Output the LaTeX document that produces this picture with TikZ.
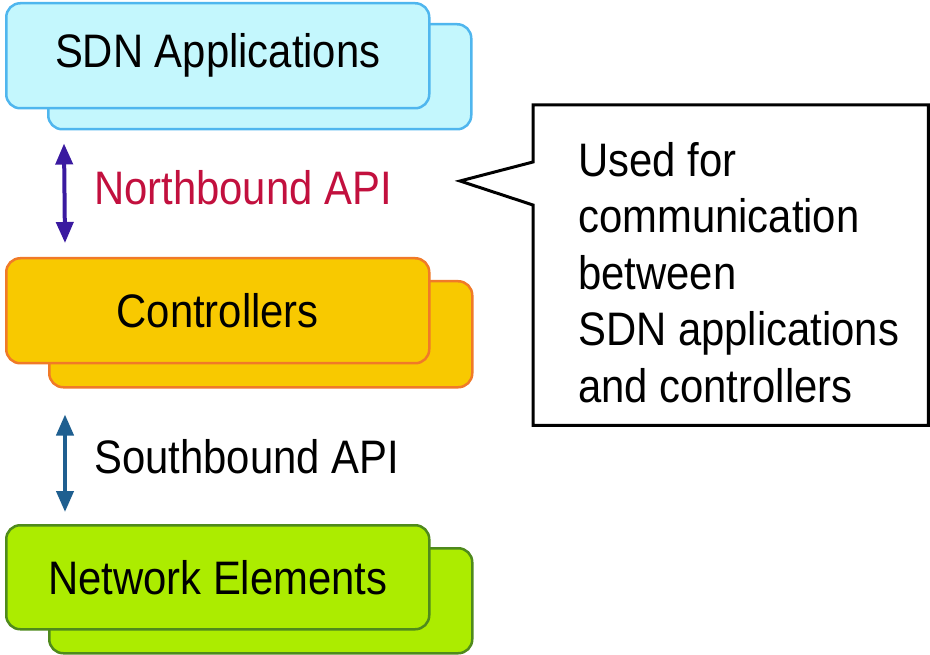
\documentclass[tikz,border=0pt]{standalone}
\usepackage{fontspec}
\setmainfont{Liberation Sans}[FakeStretch=0.89]
\usetikzlibrary{arrows.meta,calc}
\definecolor{appfill}{HTML}{C4F7FD}
\definecolor{appline}{HTML}{4FB6EE}
\definecolor{ctrlfill}{HTML}{F8C900}
\definecolor{ctrlline}{HTML}{F07A28}
\definecolor{netfill}{HTML}{ACEC00}
\definecolor{netline}{HTML}{4F8A1C}
\definecolor{nbarrow}{HTML}{3A1AA0}
\definecolor{nbtext}{HTML}{C2103E}
\definecolor{sbarrow}{HTML}{1F5F90}
\begin{document}
\begin{tikzpicture}[x=1pt,y=-1pt,
  box/.style={rounded corners=14pt, line width=2.5pt, minimum width=423pt,
    minimum height=105pt, anchor=north west, inner sep=0pt,
    font=\fontsize{47}{56}\selectfont},
  appbox/.style={box, draw=appline, fill=appfill},
  ctrlbox/.style={box, draw=ctrlline, fill=ctrlfill},
  netbox/.style={box, draw=netline, fill=netfill},
  apiarrow/.style={line width=4pt, {Triangle[width=17pt,length=21pt]}-{Triangle[width=17pt,length=21pt]}},
  apilabel/.style={anchor=west, inner sep=0pt, font=\fontsize{47}{56}\selectfont}
]
\useasboundingbox (0,0) rectangle (930,655);
% SDN Applications
\node[appbox] (appsback) at (47,23) {};
\node[appbox] (appsfront) at (5,2) {SDN Applications};
% Controllers
\node[ctrlbox, minimum height=106pt] (ctrlback) at (48,280) {};
\node[ctrlbox] (ctrlfront) at (5,257) {Controllers};
% Network Elements
\node[netbox] (netback) at (48,547) {};
\node[netbox, minimum height=104pt] (netfront) at (5,524) {Network Elements};
% APIs
\draw[apiarrow, nbarrow] ($(appsback.south west)+(17,13)$) -- ($(ctrlfront.north west)+(60,-14)$);
\node[apilabel, text=nbtext] (nblabel) at (94,188) {Northbound API};
\draw[apiarrow, sbarrow] ($(ctrlback.south west)+(17,26)$) -- ($(netfront.north west)+(60,-12)$);
\node[apilabel] (sblabel) at (94,457) {Southbound API};
% Callout
\node[anchor=north west, minimum width=395pt, minimum height=320pt, inner sep=0pt] (callbox) at (533,105) {};
\coordinate (tip) at (460,181);
\draw[line width=3pt, line join=miter] (callbox.north west) -- (callbox.north east) -- (callbox.south east) -- (callbox.south west)
  -- ($(callbox.north west)+(0,100)$) -- (tip) -- ($(callbox.north west)+(0,57)$) -- cycle;
\node[anchor=north west, align=left, inner sep=0pt, font=\fontsize{47}{56.5}\selectfont] (calltext) at (578,142)
  {Used for\\communication\\between\\SDN applications\\and controllers};
\end{tikzpicture}
\end{document}
